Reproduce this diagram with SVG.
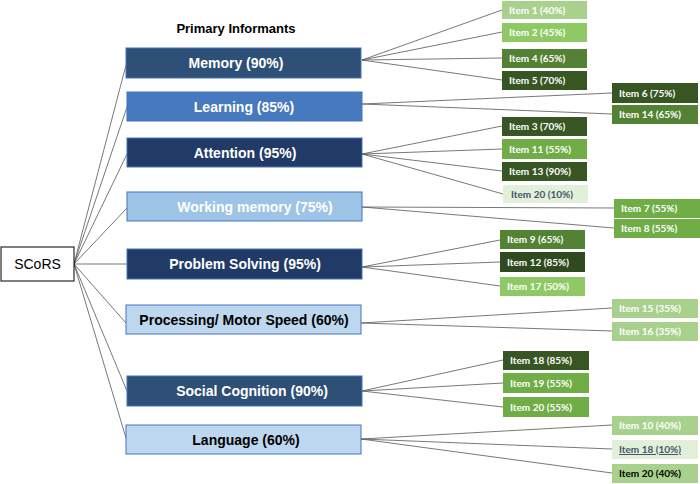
<svg xmlns="http://www.w3.org/2000/svg" width="700" height="484" viewBox="0 0 700 484">
<style>
.cat{stroke:#4472C4;stroke-width:1}
.ct{font-family:"Liberation Sans",Arial,sans-serif;font-weight:bold;font-size:14px;text-anchor:middle}
.it{font-family:Lato,"Liberation Sans",Arial,sans-serif;font-weight:bold;font-size:10px;fill:#fff}
.ln{stroke:#555;stroke-width:0.8;fill:none}
.g1{fill:#A9D18E}.g2{fill:#8FC965}.g3{fill:#548235}.g4{fill:#375623}.g5{fill:#70AD47}.g6{fill:#E2F0D9}.g7{fill:#2E4A1E}
</style>
<rect width="700" height="484" fill="#fff"/>
<text x="236" y="33" font-family="Liberation Sans, Arial, sans-serif" font-weight="bold" font-size="13" text-anchor="middle" fill="#000">Primary Informants</text>
<g id="connectors">
<path class="ln" d="M74 264L126 65M74 264L127 107M74 264L127 154M74 264L127 208M74 264L127 264M74 264L126 323M74 264L127 391M74 264L126 438"/>
<path class="ln" d="M362 60L502 10M362 60L502 32M362 60L502 58M362 60L502 80"/>
<path class="ln" d="M362 104L612 93M362 104L612 114"/>
<path class="ln" d="M362 154L502 126M362 154L502 149M362 154L502 171M362 154L503 194"/>
<path class="ln" d="M362 207L614 208M362 207L614 228"/>
<path class="ln" d="M362 267L500 240M362 267L500 262M362 267L500 286"/>
<path class="ln" d="M361 323L612 308M361 323L612 331"/>
<path class="ln" d="M362 391L503 360M362 391L503 383M362 391L503 407"/>
<path class="ln" d="M361 439L612 425M361 439L612 449M361 439L612 473"/>
</g>
<g id="scors"><rect x="1" y="247" width="73" height="34" fill="#fff" stroke="#000" stroke-width="1"/><text x="37.5" y="269" font-family="Liberation Sans, Arial, sans-serif" font-size="14" text-anchor="middle" fill="#000">SCoRS</text></g>
<g id="memory"><rect class="cat" x="126" y="48" width="235" height="30" fill="#2E5077"/><text class="ct" x="236" y="68" fill="#fff">Memory (90%)</text></g>
<g id="learning"><rect class="cat" x="127" y="92" width="235" height="29" fill="#4679BD"/><text class="ct" x="244" y="112" fill="#fff">Learning (85%)</text></g>
<g id="attention"><rect class="cat" x="127" y="138" width="235" height="29" fill="#213A66"/><text class="ct" x="245" y="158" fill="#fff">Attention (95%)</text></g>
<g id="working-memory"><rect class="cat" x="127" y="192" width="235" height="29" fill="#9DC3E6"/><text class="ct" x="255" y="212" fill="#fff">Working memory (75%)</text></g>
<g id="problem-solving"><rect class="cat" x="127" y="249" width="235" height="30" fill="#213A66"/><text class="ct" x="245" y="269" fill="#fff">Problem Solving (95%)</text></g>
<g id="processing"><rect class="cat" x="126" y="305" width="235" height="29" fill="#BDD7EE"/><text class="ct" x="244" y="325" fill="#000">Processing/ Motor Speed (60%)</text></g>
<g id="social-cognition"><rect class="cat" x="127" y="376" width="235" height="30" fill="#2E5077"/><text class="ct" x="252" y="396" fill="#fff">Social Cognition (90%)</text></g>
<g id="language"><rect class="cat" x="126" y="425" width="235" height="29" fill="#BDD7EE"/><text class="ct" x="246" y="445" fill="#000">Language (60%)</text></g>
<g id="item1"><rect class="g1" x="502" y="1" width="85" height="18"/><text class="it" x="509" y="13.5">Item 1 (40%)</text></g>
<g id="item2"><rect class="g2" x="502" y="23" width="85" height="19"/><text class="it" x="509" y="36">Item 2 (45%)</text></g>
<g id="item4"><rect class="g3" x="502" y="49" width="85" height="19"/><text class="it" x="509" y="62">Item 4 (65%)</text></g>
<g id="item5"><rect class="g4" x="502" y="71" width="85" height="19"/><text class="it" x="509" y="84">Item 5 (70%)</text></g>
<g id="item6"><rect class="g4" x="612" y="83" width="86" height="20"/><text class="it" x="619" y="96.5">Item 6 (75%)</text></g>
<g id="item14"><rect class="g3" x="612" y="105" width="86" height="19"/><text class="it" x="619" y="118">Item 14 (65%)</text></g>
<g id="item3"><rect class="g4" x="502" y="117" width="85" height="19"/><text class="it" x="509" y="130">Item 3 (70%)</text></g>
<g id="item11"><rect class="g5" x="502" y="139" width="85" height="20"/><text class="it" x="509" y="152.5">Item 11 (55%)</text></g>
<g id="item13"><rect class="g4" x="502" y="162" width="85" height="19"/><text class="it" x="509" y="175">Item 13 (90%)</text></g>
<g id="item20a"><rect class="g6" x="503" y="185" width="85" height="18"/><text class="it" x="511" y="197.5" style="fill:#44546A">Item 20 (10%)</text></g>
<g id="item7"><rect class="g5" x="614" y="199" width="86" height="19"/><text class="it" x="621" y="212">Item 7 (55%)</text></g>
<g id="item8"><rect class="g5" x="614" y="219" width="86" height="19"/><text class="it" x="621" y="232">Item 8 (55%)</text></g>
<g id="item9"><rect class="g3" x="500" y="230" width="85" height="19"/><text class="it" x="507" y="243">Item 9 (65%)</text></g>
<g id="item12"><rect class="g7" x="500" y="252" width="85" height="20"/><text class="it" x="507" y="265.5">Item 12 (85%)</text></g>
<g id="item17"><rect class="g2" x="500" y="277" width="85" height="19"/><text class="it" x="507" y="290">Item 17 (50%)</text></g>
<g id="item15"><rect class="g1" x="612" y="299" width="86" height="19"/><text class="it" x="619" y="312">Item 15 (35%)</text></g>
<g id="item16"><rect class="g1" x="612" y="322" width="86" height="19"/><text class="it" x="619" y="335">Item 16 (35%)</text></g>
<g id="item18a"><rect class="g4" x="503" y="351" width="86" height="19"/><text class="it" x="510" y="364">Item 18 (85%)</text></g>
<g id="item19"><rect class="g5" x="503" y="373" width="86" height="20"/><text class="it" x="510" y="386.5">Item 19 (55%)</text></g>
<g id="item20b"><rect class="g5" x="503" y="397" width="86" height="20"/><text class="it" x="510" y="410.5">Item 20 (55%)</text></g>
<g id="item10"><rect class="g1" x="612" y="416" width="86" height="19"/><text class="it" x="619" y="429">Item 10 (40%)</text></g>
<g id="item18b"><rect class="g6" x="612" y="440" width="86" height="19"/><text class="it" x="619" y="453" style="fill:#44546A" text-decoration="underline">Item 18 (10%)</text></g>
<g id="item20c"><rect class="g1" x="612" y="464" width="86" height="19"/><text class="it" x="619" y="477" style="fill:#000">Item 20 (40%)</text></g>
</svg>
